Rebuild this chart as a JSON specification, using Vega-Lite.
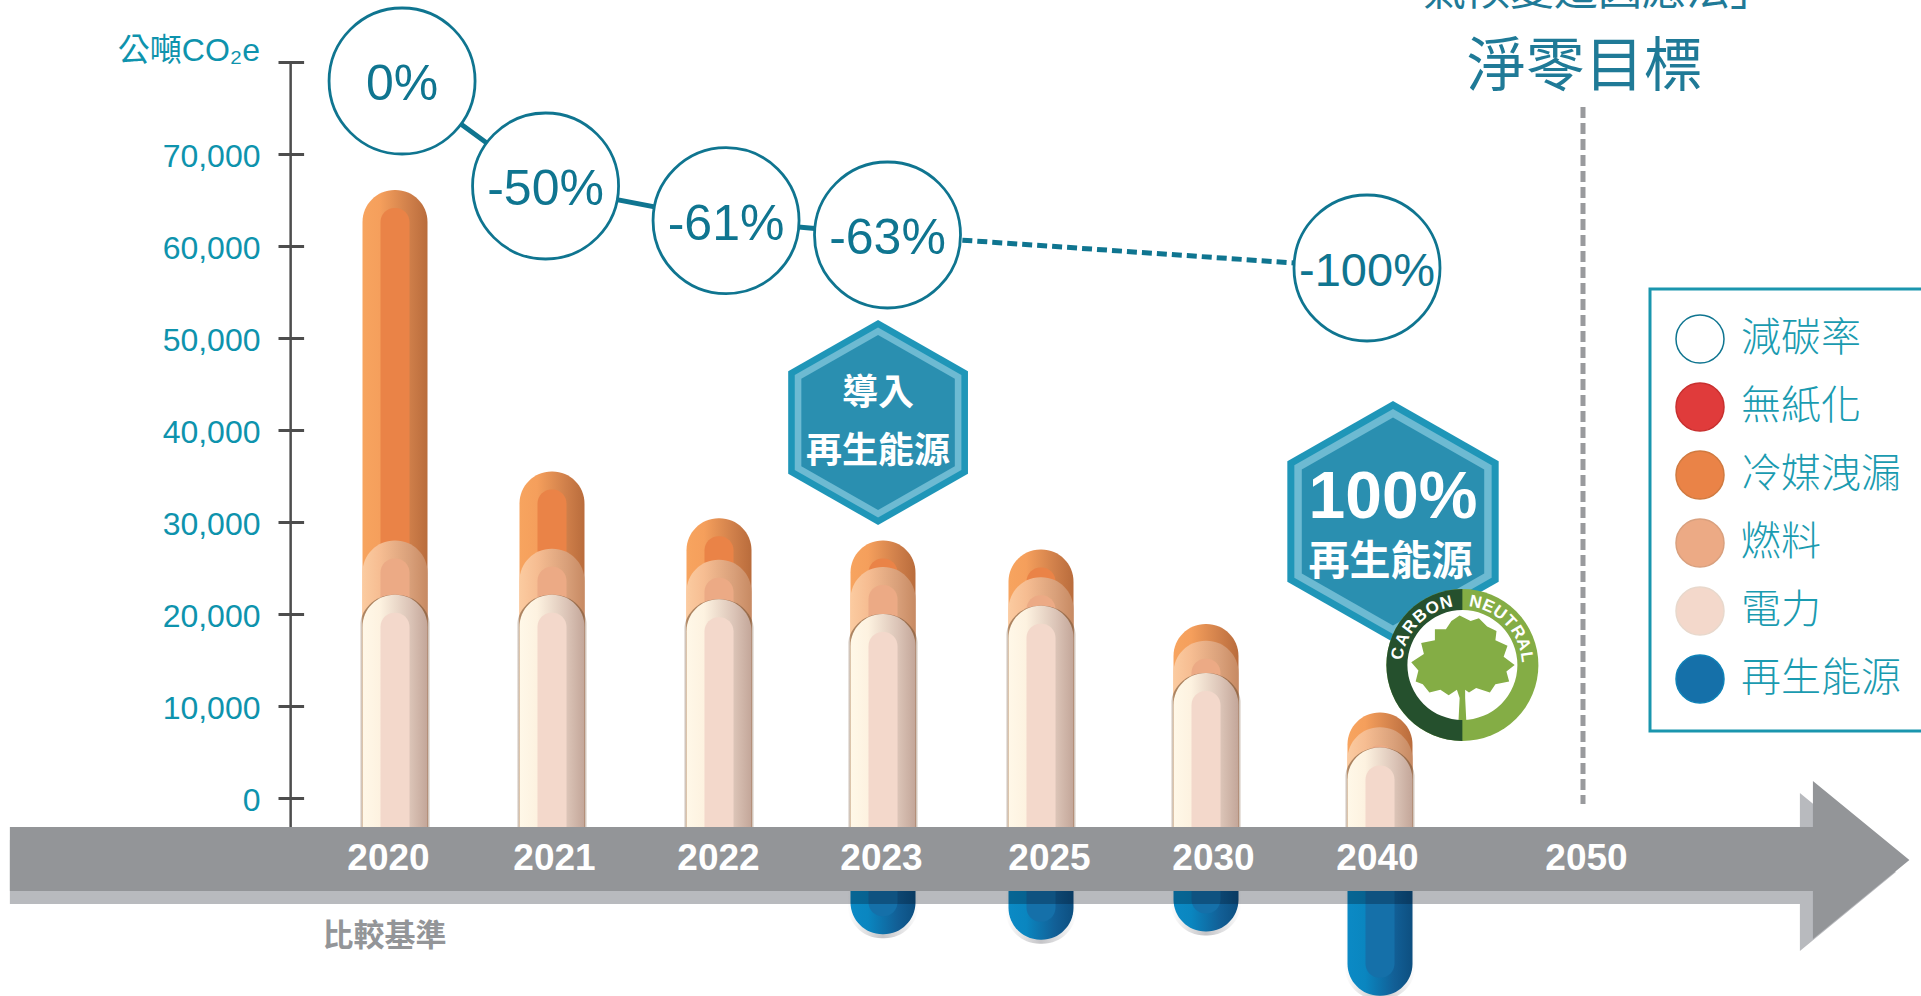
{
"$schema":"https://vega.github.io/schema/vega-lite/v6.json",
"width":1921,"height":996,"padding":0,"autosize":{"type":"none"},"background":"#ffffff",
"config":{"view":{"stroke":null},"legend":{"strokeWidth":3}},
"datasets":{
"bars":[
{"x":2020,"y":66100,"系列":"冷媒洩漏"},{"x":2020,"y":28000,"系列":"燃料"},{"x":2020,"y":22100,"系列":"電力"},
{"x":2021,"y":35500,"系列":"冷媒洩漏"},{"x":2021,"y":27100,"系列":"燃料"},{"x":2021,"y":22100,"系列":"電力"},
{"x":2022,"y":30400,"系列":"冷媒洩漏"},{"x":2022,"y":25900,"系列":"燃料"},{"x":2022,"y":21600,"系列":"電力"},
{"x":2023,"y":28000,"系列":"冷媒洩漏"},{"x":2023,"y":25100,"系列":"燃料"},{"x":2023,"y":20000,"系列":"電力"},{"x":2023,"y":-14800,"系列":"再生能源"},
{"x":2025,"y":27000,"系列":"冷媒洩漏"},{"x":2025,"y":24000,"系列":"燃料"},{"x":2025,"y":20900,"系列":"電力"},{"x":2025,"y":-15400,"系列":"再生能源"},
{"x":2030,"y":18900,"系列":"冷媒洩漏"},{"x":2030,"y":17100,"系列":"燃料"},{"x":2030,"y":13600,"系列":"電力"},{"x":2030,"y":-14500,"系列":"再生能源"},
{"x":2040,"y":9300,"系列":"冷媒洩漏"},{"x":2040,"y":7700,"系列":"燃料"},{"x":2040,"y":5500,"系列":"電力"},{"x":2040,"y":-21500,"系列":"再生能源"}
],
"reduction":[
{"x":2020.045,"y":77935,"rate":"0%","系列":"減碳率"},
{"x":2020.959,"y":66522,"rate":"-50%","系列":"減碳率"},
{"x":2022.043,"y":62761,"rate":"-61%","系列":"減碳率"},
{"x":2023.057,"y":61196,"rate":"-63%","系列":"減碳率"},
{"x":2039.253,"y":57609,"rate":"-100%","系列":"減碳率"}
],
"hex":[{"x":2022.970,"y":40815,"label":"導入"},{"x":2040.631,"y":30054,"label":"100%"}],
"badge":[{"x":2044.0,"y":14457}],
"badgeLetters":[
{"x":2040.883,"y":15696,"t":"C","a":-79},{"x":2041.097,"y":17217,"t":"A","a":-66},{"x":2041.461,"y":18598,"t":"R","a":-53},{"x":2041.951,"y":19761,"t":"B","a":-40},{"x":2042.549,"y":20641,"t":"O","a":-27},{"x":2043.218,"y":21207,"t":"N","a":-14},
{"x":2044.636,"y":21261,"t":"N","a":12},{"x":2045.248,"y":20815,"t":"E","a":23.7},{"x":2045.806,"y":20109,"t":"U","a":35.3},{"x":2046.286,"y":19163,"t":"T","a":47},{"x":2046.680,"y":18022,"t":"R","a":58.7},{"x":2046.951,"y":16728,"t":"A","a":70.3},{"x":2047.107,"y":15326,"t":"L","a":82}
],
"arrow":[{"x":2023.97,"y":-6739}],
"axisLine":[{"x":2009.37,"y":80000}],
"target":[{"x":2049.854,"y":75109}],
"notes":[
{"x":2022.970,"y":44240,"t":"導入","k":"hex1"},
{"x":2022.970,"y":37935,"t":"再生能源","k":"hex1"},
{"x":2040.631,"y":33044,"t":"100%","k":"hex2a"},
{"x":2040.51,"y":25870,"t":"再生能源","k":"hex2b"},
{"x":2018.94,"y":-14891,"t":"比較基準","k":"base"},
{"x":2049.94,"y":80000,"t":"淨零目標","k":"goal"},
{"x":2050.72,"y":88261,"t":"氣候變遷因應法」","k":"law"}
]
},
"encoding":{
"x":{"field":"x","type":"quantitative","scale":{"domain":[1980,2020,2021,2022,2023,2025,2030,2040,2050,2070],"range":[0,395,552,719,883,1041,1206,1380,1586,1921],"nice":false,"zero":false},
"axis":{"title":null,"values":[2020,2021,2022,2023,2025,2030,2040,2050],"format":"d","orient":"bottom","offset":-155.5,"domain":false,"ticks":false,"grid":false,"labelPadding":0,"labelFont":"Liberation Sans","labelFontWeight":"bold","labelFontSize":37,"labelColor":"#ffffff","labelBaseline":"top","labelOverlap":false,"labelFlush":false,"zindex":1,"encoding":{"labels":{"dx":{"value":{"expr":"datum.value==2020?-7:datum.value==2021?2:datum.value==2022?-1:datum.value==2023?-2:datum.value==2025?8:datum.value==2030?7:datum.value==2040?-3:0"}}}}}},
"y":{"field":"y","type":"quantitative","scale":{"domain":[-21522,86739],"nice":false,"zero":false},
"axis":{"title":"公噸CO₂e","titleAngle":0,"titleX":-44,"titleY":50,"titleAlign":"right","titleBaseline":"middle","titleColor":"#0e93ad","titleFont":"Liberation Sans, Noto Sans CJK TC","titleFontSize":32,"titleFontWeight":"normal","values":[0,10000,20000,30000,40000,50000,60000,70000,80000],"labelExpr":"datum.value==80000?'':format(datum.value,',')","offset":-303.6,"domain":false,"grid":false,"tickSize":25.6,"tickWidth":3,"tickColor":"#4d4d4d","labelPadding":18,"labelOffset":2.5,"labelFont":"Liberation Sans","labelFontSize":32,"labelColor":"#0e93ad","labelOverlap":false,"labelFlush":false}}
},
"layer":[
{"data":{"name":"axisLine"},"mark":{"type":"rule","color":"#4d4d4d","strokeWidth":2.5},"encoding":{"y2":{"datum":-3150}}},
{"data":{"name":"target"},"mark":{"type":"rule","color":"#999a9d","strokeWidth":5,"strokeDash":[11,5]},"encoding":{"y2":{"datum":-652}}},
{"data":{"name":"reduction"},"transform":[{"filter":"datum.x<2030"}],"mark":{"type":"line","color":"#0f7590","strokeWidth":5},"encoding":{}},
{"data":{"name":"reduction"},"transform":[{"filter":"datum.x>2023"}],"mark":{"type":"line","color":"#0f7590","strokeWidth":5,"strokeDash":[10,5]},"encoding":{}},
{"data":{"name":"reduction"},"mark":{"type":"point","filled":true,"opacity":1,"size":21316,"strokeWidth":2.8},"encoding":{
"color":{"field":"系列","type":"nominal","scale":{"domain":["減碳率","無紙化","冷媒洩漏","燃料","電力","再生能源"],"range":["#ffffff","#e03b3b","#ea8347","#ecaa85","#f3d8cb","#1570a9"]},
"legend":{"orient":"none","legendX":1650,"legendY":289,"title":null,"padding":25,"fillColor":"#ffffff","strokeColor":"#1a96ae","symbolType":"circle","symbolSize":2304,"labelFont":"Noto Sans CJK TC","labelFontWeight":300,"labelFontSize":40,"labelColor":"#1a9bb0","labelOffset":16,"rowPadding":14,"labelLimit":300}},
"stroke":{"field":"系列","type":"nominal","scale":{"domain":["減碳率","無紙化","冷媒洩漏","燃料","電力","再生能源"],"range":["#0f7590","#c8302f","#d07a40","#d9a07e","#e8d8cc","#0e82b8"]},
"legend":{"orient":"none","legendX":1650,"legendY":289,"title":null,"padding":25,"fillColor":"#ffffff","strokeColor":"#1a96ae","symbolType":"circle","symbolSize":2304,"labelFont":"Noto Sans CJK TC","labelFontWeight":300,"labelFontSize":40,"labelColor":"#1a9bb0","labelOffset":16,"rowPadding":14,"labelLimit":300}}
}},
{"data":{"name":"reduction"},"mark":{"type":"text","font":"Liberation Sans","color":"#0f7590","align":"center","baseline":"middle","dy":4},"encoding":{"text":{"field":"rate"},"size":{"condition":{"test":"datum.rate==='-100%'","value":47},"value":50}}},
{"data":{"name":"hex"},"mark":{"type":"point","filled":true,"opacity":1,"fill":"#1f96b8","shape":"M0,-1L.877,-.5L.877,.5L0,1L-.877,.5L-.877,-.5Z"},"encoding":{"size":{"condition":{"test":"datum.label==='導入'","value":42025},"value":58081}}},
{"data":{"name":"hex"},"mark":{"type":"point","filled":true,"opacity":1,"fill":"#6dbad2","shape":"M0,-1L.877,-.5L.877,.5L0,1L-.877,.5L-.877,-.5Z"},"encoding":{"size":{"condition":{"test":"datum.label==='導入'","value":36100},"value":50625}}},
{"data":{"name":"hex"},"mark":{"type":"point","filled":true,"opacity":1,"fill":"#2a8fb0","shape":"M0,-1L.877,-.5L.877,.5L0,1L-.877,.5L-.877,-.5Z"},"encoding":{"size":{"condition":{"test":"datum.label==='導入'","value":30625},"value":43264}}},
{"data":{"name":"notes"},"transform":[{"filter":"datum.k==='hex1'"}],"mark":{"type":"text","font":"Noto Sans CJK TC","fontWeight":"bold","fontSize":36,"dy":3,"color":"#ffffff","align":"center","baseline":"middle"},"encoding":{"text":{"field":"t"}}},
{"data":{"name":"notes"},"transform":[{"filter":"datum.k==='hex2a'"}],"mark":{"type":"text","font":"Liberation Sans","fontWeight":"bold","fontSize":66,"dy":4,"color":"#ffffff","align":"center","baseline":"middle"},"encoding":{"text":{"field":"t"}}},
{"data":{"name":"notes"},"transform":[{"filter":"datum.k==='hex2b'"}],"mark":{"type":"text","font":"Noto Sans CJK TC","fontWeight":"bold","fontSize":41,"dy":3,"color":"#ffffff","align":"center","baseline":"middle"},"encoding":{"text":{"field":"t"}}},
{"data":{"name":"notes"},"transform":[{"filter":"datum.k==='base'"}],"mark":{"type":"text","font":"Noto Sans CJK TC","fontWeight":"bold","fontSize":31,"dy":2,"color":"#939598","align":"center","baseline":"middle"},"encoding":{"text":{"field":"t"}}},
{"data":{"name":"notes"},"transform":[{"filter":"datum.k==='goal'"}],"mark":{"type":"text","font":"Noto Sans CJK TC","fontSize":59,"dy":6,"color":"#1f7a97","align":"center","baseline":"middle"},"encoding":{"text":{"field":"t"}}},
{"data":{"name":"notes"},"transform":[{"filter":"datum.k==='law'"}],"mark":{"type":"text","font":"Noto Sans CJK TC","fontSize":44,"dy":6,"color":"#1f7a97","align":"center","baseline":"middle"},"encoding":{"text":{"field":"t"}}},
{"data":{"name":"badge"},"mark":{"type":"point","filled":true,"opacity":1,"fill":"#84ad45","size":23104,"shape":"circle"},"encoding":{}},
{"data":{"name":"badge"},"mark":{"type":"point","filled":true,"opacity":1,"fill":"#25502d","size":23104,"shape":"M0,-1A1,1 0 0 0 0,1Z"},"encoding":{}},
{"data":{"name":"badge"},"mark":{"type":"point","filled":true,"opacity":1,"fill":"#ffffff","size":12100,"shape":"circle"},"encoding":{}},
{"data":{"name":"badge"},"mark":{"type":"point","filled":true,"opacity":1,"fill":"#84ad45","size":12100,"shape":"M-.05,-.9L.15,-.8L.3,-.85L.45,-.7L.62,-.62L.6,-.45L.82,-.35L.75,-.15L.95,0L.8,.12L.85,.3L.6,.35L.5,.5L.25,.42L.12,.5L.05,.45L.05,.6L.07,1L-.07,1L-.05,.6L-.1,.45L-.25,.55L-.4,.45L-.6,.5L-.72,.35L-.85,.3L-.8,.1L-.93,-.05L-.7,-.2L-.75,-.4L-.5,-.45L-.5,-.65L-.3,-.65L-.2,-.8Z"},"encoding":{}},
{"data":{"name":"badgeLetters"},"mark":{"type":"text","font":"Liberation Sans","fontWeight":"bold","fontSize":17,"color":"#ffffff","align":"center","baseline":"middle"},"encoding":{"text":{"field":"t"},"angle":{"field":"a","type":"quantitative","scale":null}}},

{"data":{"name":"bars"},"transform":[{"filter":"datum['系列']==='再生能源'"}],"mark":{"type":"bar","orient":"vertical","width":71,"yOffset":4,"cornerRadiusBottomLeft":34,"cornerRadiusBottomRight":34,"fill":{"x1":0,"y1":0,"x2":1,"y2":0,"gradient":"linear","stops":[{"offset":0,"color":"rgba(60,60,70,0)"},{"offset":0.5,"color":"rgba(60,60,70,0.3)"},{"offset":1,"color":"rgba(60,60,70,0)"}]}},"encoding":{"y2":{"datum":-7000}}},
{"data":{"name":"bars"},"transform":[{"filter":"datum['系列']==='再生能源'"}],"mark":{"type":"bar","orient":"vertical","width":65,"cornerRadiusBottomLeft":32,"cornerRadiusBottomRight":32,"fill":{"x1":0,"y1":0,"x2":1,"y2":0,"gradient":"linear","stops":[{"offset":0,"color":"#0b8ac5"},{"offset":0.27,"color":"#0a86c0"},{"offset":0.72,"color":"#125f96"},{"offset":1,"color":"#0d4f80"}]}},"encoding":{"y2":{"datum":-7000}}},
{"data":{"name":"bars"},"transform":[{"filter":"datum['系列']==='再生能源'"}],"mark":{"type":"bar","orient":"vertical","width":29,"yOffset":-18,"cornerRadiusBottomLeft":14,"cornerRadiusBottomRight":14},"encoding":{"y2":{"datum":-7000},"color":{"field":"系列","type":"nominal"}}},

{"data":{"name":"bars"},"transform":[{"filter":"datum['系列']==='冷媒洩漏'"}],"mark":{"type":"bar","orient":"vertical","width":65,"cornerRadiusTopLeft":32,"cornerRadiusTopRight":32,"fill":{"x1":0,"y1":0,"x2":1,"y2":0,"gradient":"linear","stops":[{"offset":0,"color":"#f7a45f"},{"offset":0.27,"color":"#f59f5c"},{"offset":0.72,"color":"#cf7f4a"},{"offset":1,"color":"#b96c3c"}]}},"encoding":{"y2":{"datum":-4000}}},
{"data":{"name":"bars"},"transform":[{"filter":"datum['系列']==='冷媒洩漏'"}],"mark":{"type":"bar","orient":"vertical","width":29,"yOffset":18,"cornerRadiusTopLeft":14,"cornerRadiusTopRight":14},"encoding":{"y2":{"datum":-4000},"color":{"field":"系列","type":"nominal"}}},

{"data":{"name":"bars"},"transform":[{"filter":"datum['系列']==='燃料'"}],"mark":{"type":"bar","orient":"vertical","width":65,"cornerRadiusTopLeft":32,"cornerRadiusTopRight":32,"fill":{"x1":0,"y1":0,"x2":1,"y2":0,"gradient":"linear","stops":[{"offset":0,"color":"#fbcba0"},{"offset":0.27,"color":"#f6bd92"},{"offset":0.72,"color":"#d9a07a"},{"offset":1,"color":"#c78a63"}]}},"encoding":{"y2":{"datum":-4000}}},
{"data":{"name":"bars"},"transform":[{"filter":"datum['系列']==='燃料'"}],"mark":{"type":"bar","orient":"vertical","width":29,"yOffset":18,"cornerRadiusTopLeft":14,"cornerRadiusTopRight":14},"encoding":{"y2":{"datum":-4000},"color":{"field":"系列","type":"nominal"}}},

{"data":{"name":"bars"},"transform":[{"filter":"datum['系列']==='電力'"}],"mark":{"type":"bar","orient":"vertical","width":71,"cornerRadiusTopLeft":34,"cornerRadiusTopRight":34,"fill":{"x1":0,"y1":0,"x2":1,"y2":0,"gradient":"linear","stops":[{"offset":0,"color":"rgba(120,85,55,0)"},{"offset":0.05,"color":"rgba(120,85,55,0.6)"},{"offset":0.95,"color":"rgba(120,85,55,0.6)"},{"offset":1,"color":"rgba(120,85,55,0)"}]}},"encoding":{"y2":{"datum":-4000}}},
{"data":{"name":"bars"},"transform":[{"filter":"datum['系列']==='電力'"}],"mark":{"type":"bar","orient":"vertical","width":65,"cornerRadiusTopLeft":32,"cornerRadiusTopRight":32,"fill":{"x1":0,"y1":0,"x2":1,"y2":0,"gradient":"linear","stops":[{"offset":0,"color":"#fff8e8"},{"offset":0.27,"color":"#fdf2e0"},{"offset":0.72,"color":"#dcc5b8"},{"offset":1,"color":"#c3a699"}]}},"encoding":{"y2":{"datum":-4000}}},
{"data":{"name":"bars"},"transform":[{"filter":"datum['系列']==='電力'"}],"mark":{"type":"bar","orient":"vertical","width":29,"yOffset":18,"cornerRadiusTopLeft":14,"cornerRadiusTopRight":14},"encoding":{"y2":{"datum":-4000},"color":{"field":"系列","type":"nominal"}}},

{"data":{"name":"arrow"},"mark":{"type":"point","filled":true,"fill":"#000814","opacity":0.28,"size":3610000,"shape":"M-.99974,-.0211L.8845,-.0211L.8845,-.0705L.9856,.0126L.8845,.0958L.8845,.0463L-.99974,.0463Z"},"encoding":{}},
{"data":{"name":"arrow"},"mark":{"type":"point","filled":true,"fill":"#939598","opacity":1,"size":3610000,"shape":"M-.99974,-.0347L.8982,-.0347L.8982,-.0832L.99974,0L.8982,.0832L.8982,.0326L-.99974,.0326Z"},"encoding":{}}
]
}
